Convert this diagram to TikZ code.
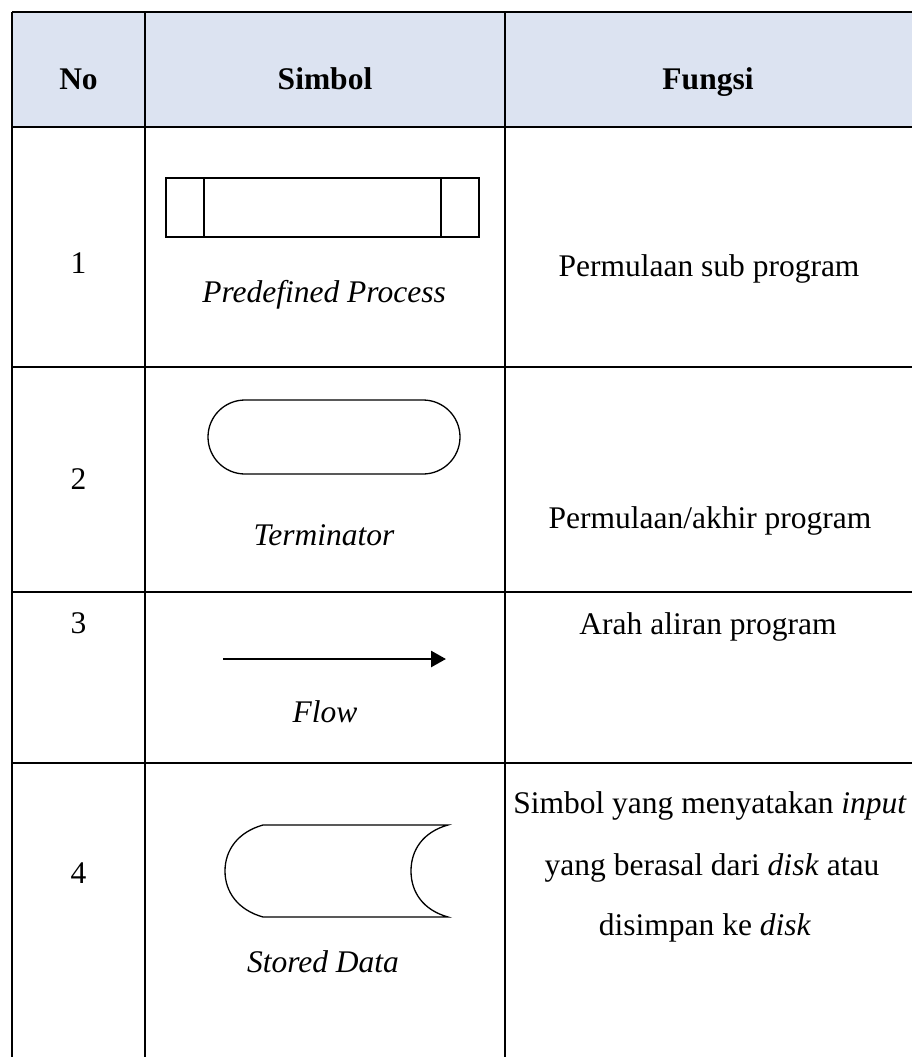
\documentclass[tikz,border=0pt]{standalone}
\usepackage{fontspec}
\setmainfont{Liberation Serif}
\usetikzlibrary{arrows.meta}
\definecolor{headfill}{HTML}{DCE3F1}
\tikzset{
  grid/.style={line width=1.8pt, black},
  symb/.style={line width=1.3pt, black},
  cell/.style={font=\fontsize{31.5}{38}\selectfont, anchor=base, inner sep=0pt},
  head/.style={cell, font=\fontsize{31.5}{38}\selectfont\bfseries},
}
\begin{document}
\begin{tikzpicture}[x=1pt, y=-1pt]
  \useasboundingbox (0,0) rectangle (911,1057);
  \fill[white] (0,0) rectangle (911,1057);

  % header band
  \fill[headfill] (12,12) rectangle (912,127);

  % table rules
  \draw[grid] (12,12) -- (912,12);
  \foreach \yy in {127,367,592,763} \draw[grid] (12,\yy) -- (912,\yy);
  \foreach \xx in {12,145,505} \draw[grid] (\xx,12) -- (\xx,1058);

  % header
  \node[head] (hNo)  at (78.5,89) {No};
  \node[head] (hSim) at (325,89) {Simbol};
  \node[head] (hFun) at (708,89) {Fungsi};

  % row 1: predefined process
  \node[cell] (n1) at (78.5,273) {1};
  \draw[symb] (166,178) rectangle (479,237);
  \draw[symb] (204,178) -- (204,237);
  \draw[symb] (441,178) -- (441,237);
  \node[cell] (s1) at (324,302) {\itshape Predefined Process};
  \node[cell] (f1) at (709,276) {Permulaan sub program};

  % row 2: terminator
  \node[cell] (n2) at (78.5,489) {2};
  \draw[symb, rounded corners=37pt] (208,400) rectangle (460,474);
  \node[cell] (s2) at (324,545) {\itshape Terminator};
  \node[cell] (f2) at (710,528) {Permulaan/akhir program};

  % row 3: flow
  \node[cell] (n3) at (78.5,633) {3};
  \coordinate (flowA) at (223,659);
  \coordinate (flowB) at (446,659);
  \draw[line width=2.7pt, -{Triangle[length=15pt,width=16pt]}] (flowA) -- (flowB);
  \node[cell] (s3) at (325,722) {\itshape Flow};
  \node[cell] (f3) at (708,634) {Arah aliran program};

  % row 4: stored data
  \node[cell] (n4) at (78.5,883) {4};
  \draw[symb] (263,825) -- (448,825)
    .. controls (423,832) and (411,850) .. (411,871)
    .. controls (411,892) and (423,910) .. (448,917)
    -- (263,917)
    .. controls (238,910) and (225,892) .. (225,871)
    .. controls (225,850) and (238,832) .. (263,825) -- cycle;
  \node[cell] (s4) at (323,972) {\itshape Stored Data};
  \node[cell] (f4a) at (710,813) {Simbol yang menyatakan \textit{input}};
  \node[cell] (f4b) at (712,875) {yang berasal dari \textit{disk} atau};
  \node[cell] (f4c) at (705,935) {disimpan ke \textit{disk}};
\end{tikzpicture}
\end{document}
